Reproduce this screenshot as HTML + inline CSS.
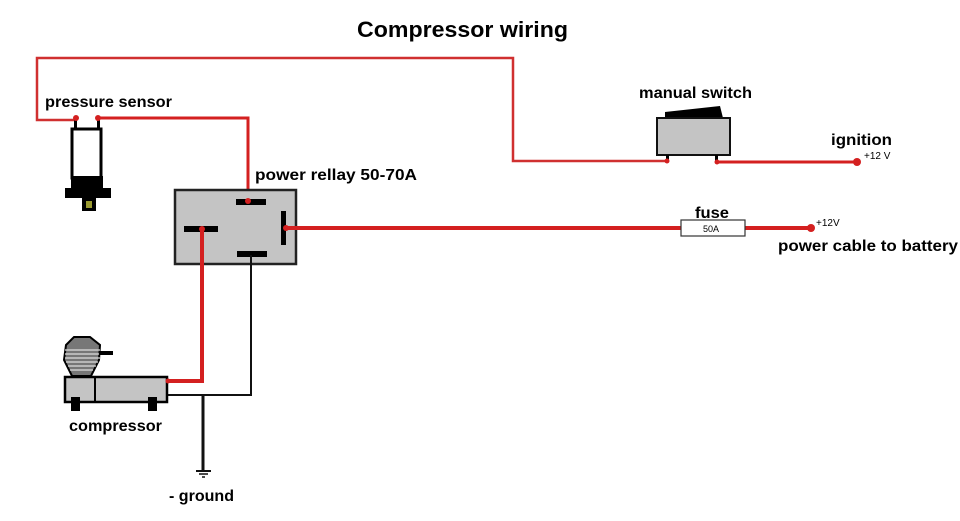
<!DOCTYPE html>
<html><head><meta charset="utf-8"><style>
html,body{margin:0;padding:0;background:#fff;}
svg{display:block;}
text{font-family:"Liberation Sans",sans-serif;font-weight:bold;fill:#000;}
</style></head><body>
<svg width="960" height="521" viewBox="0 0 960 521" xmlns="http://www.w3.org/2000/svg">
<text x="357" y="37" font-size="22" textLength="211" lengthAdjust="spacingAndGlyphs">Compressor wiring</text>
<polyline points="76,120 37,120 37,58 513,58 513,161 667,161" fill="none" stroke="#d03030" stroke-width="2.5"/>
<polyline points="98,118 248,118 248,200" fill="none" stroke="#d42020" stroke-width="3"/>
<rect x="74" y="120" width="3" height="9" fill="#000"/><rect x="97" y="120" width="3" height="9" fill="#000"/>
<circle cx="76" cy="118" r="3" fill="#d42020"/><circle cx="98" cy="118" r="3" fill="#d42020"/>
<rect x="72" y="129" width="29" height="49" fill="#fff" stroke="#000" stroke-width="3"/>
<rect x="71" y="176" width="32" height="13" fill="#000"/>
<rect x="65" y="188" width="46" height="10" fill="#000"/>
<rect x="82" y="198" width="14" height="13" fill="#000"/><rect x="86" y="201" width="6" height="7" fill="#9a9a30"/>
<text x="45" y="107" font-size="16" textLength="127" lengthAdjust="spacingAndGlyphs">pressure sensor</text>
<rect x="175" y="190" width="121" height="74" fill="#c4c4c4" stroke="#222" stroke-width="2.5"/>
<rect x="236" y="199" width="30" height="6" fill="#000"/>
<rect x="184" y="226" width="34" height="6" fill="#000"/>
<rect x="281" y="211" width="5" height="34" fill="#000"/>
<rect x="237" y="251" width="30" height="6" fill="#000"/>
<circle cx="248" cy="201" r="3" fill="#d42020"/>
<text x="255" y="180" font-size="16" textLength="162" lengthAdjust="spacingAndGlyphs">power rellay 50-70A</text>
<line x1="285" y1="228" x2="681" y2="228" stroke="#d42020" stroke-width="4"/>
<circle cx="286" cy="228" r="3" fill="#d42020"/>
<line x1="745" y1="228" x2="810" y2="228" stroke="#d42020" stroke-width="4"/>
<circle cx="811" cy="228" r="4" fill="#d42020"/>
<rect x="681" y="220" width="64" height="16" fill="#fff" stroke="#333" stroke-width="1.2"/>
<text x="703" y="232" font-size="9" style="font-weight:normal">50A</text>
<text x="695" y="218" font-size="16" textLength="34" lengthAdjust="spacingAndGlyphs">fuse</text>
<text x="816" y="226" font-size="10" style="font-weight:normal">+12V</text>
<text x="778" y="251" font-size="16" textLength="180" lengthAdjust="spacingAndGlyphs">power cable to battery</text>
<polyline points="202,229 202,381 167,381" fill="none" stroke="#d42020" stroke-width="4"/>
<circle cx="202" cy="229" r="3" fill="#d42020"/>
<polyline points="251,255 251,395 166,395" fill="none" stroke="#111" stroke-width="2"/>
<line x1="203" y1="395" x2="203" y2="470" stroke="#111" stroke-width="3"/>
<line x1="196" y1="471" x2="211" y2="471" stroke="#111" stroke-width="2"/>
<line x1="199" y1="474" x2="208" y2="474" stroke="#111" stroke-width="1.5"/>
<line x1="202" y1="477" x2="205" y2="477" stroke="#111" stroke-width="1.5"/>
<text x="169" y="501" font-size="16" textLength="65" lengthAdjust="spacingAndGlyphs">- ground</text>
<path d="M66,345 L74,337 L90,337 L100,345 L99,360 L91,376 L72,376 L64,360 Z" fill="#777" stroke="#000" stroke-width="2"/>
<g stroke="#ddd" stroke-width="1.3"><line x1="65" y1="350" x2="100" y2="350"/><line x1="65" y1="354" x2="100" y2="354"/><line x1="65" y1="358" x2="100" y2="358"/><line x1="66" y1="362" x2="98" y2="362"/><line x1="68" y1="366" x2="96" y2="366"/><line x1="70" y1="370" x2="93" y2="370"/></g>
<rect x="99" y="351" width="14" height="4" fill="#000"/>
<rect x="65" y="377" width="102" height="25" fill="#c4c4c4" stroke="#000" stroke-width="2.5"/>
<line x1="95" y1="377" x2="95" y2="402" stroke="#000" stroke-width="2"/>
<rect x="71" y="397" width="9" height="14" fill="#000"/><rect x="148" y="397" width="9" height="14" fill="#000"/>
<circle cx="168" cy="381" r="2.5" fill="#d42020"/>
<text x="69" y="431" font-size="16" textLength="93" lengthAdjust="spacingAndGlyphs">compressor</text>
<path d="M665,112 L720,106 L723,118 L665,118 Z" fill="#000"/>
<rect x="657" y="118" width="73" height="37" fill="#c4c4c4" stroke="#111" stroke-width="2"/>
<rect x="666" y="155" width="3" height="6" fill="#000"/><rect x="715" y="155" width="3" height="6" fill="#000"/>
<circle cx="667" cy="161" r="2.5" fill="#d42020"/>
<line x1="717" y1="162" x2="856" y2="162" stroke="#d42020" stroke-width="3"/>
<circle cx="717" cy="162" r="2.5" fill="#d42020"/>
<circle cx="857" cy="162" r="4" fill="#d42020"/>
<text x="639" y="98" font-size="16" textLength="113" lengthAdjust="spacingAndGlyphs">manual switch</text>
<text x="831" y="145" font-size="16" textLength="61" lengthAdjust="spacingAndGlyphs">ignition</text>
<text x="864" y="159" font-size="10" style="font-weight:normal">+12 V</text>
</svg>
</body></html>
